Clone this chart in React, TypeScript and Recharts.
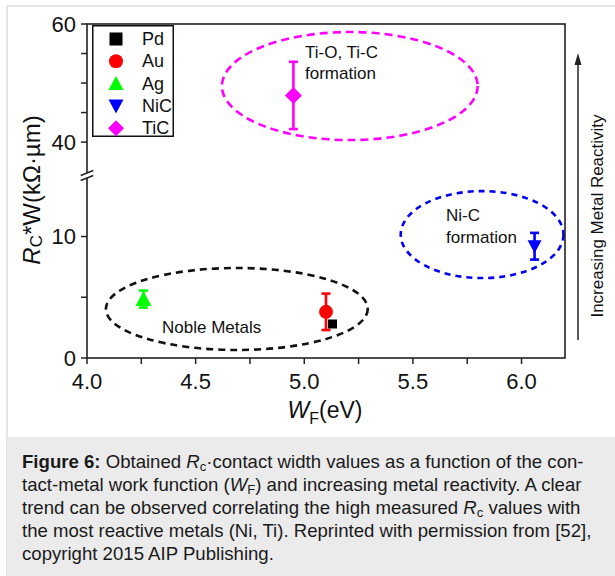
import React from 'react';
import { ScatterChart, Scatter, XAxis, YAxis, ErrorBar, ReferenceArea, Legend } from 'recharts';

const FONT = '"Liberation Sans", Arial, Helvetica, sans-serif';

const metals = ['Pd', 'Au', 'Ag', 'NiC', 'TiC'];
const workFunction = [5.13, 5.1, 4.26, 6.06, 4.95];
const rcW = [2.8, 3.8, 4.85, 9.2, 47.9];
const rcWErr = [0, 1.5, 0.7, 1.1, 5.7];
const markerColors = ['#000000', '#ff0000', '#00ff00', '#0000ff', '#ff00ff'];
const markerShapes = ['square', 'circle', 'triangle', 'triangleDown', 'diamond'];
const markerSizes = [9, 14, 16, 14, 17];

const xTicks = [4, 4.25, 4.5, 4.75, 5, 5.25, 5.5, 5.75, 6];
const yTicksHigh = [40, 45, 50, 55, 60];
const yTicksLow = [0, 5, 10];
const yLabelsShown = [0, 10, 40, 60];

// broken y axis: two segments
const highDomain = [35.1, 60];
const lowDomain = [0, 14.9];

// dashed ellipses [x1, x2, y1, y2]
const nobleEllipse = [4.087, 5.292, 0.66, 7.41];
const nicEllipse = [5.444, 6.193, 6.58, 13.74];
const ticEllipse = [4.621, 5.798, 40.34, 58.64];

function Marker({ kind, cx, cy, color, size }: any) {
  const h = size / 2;
  switch (kind) {
    case 'square':
      return <rect x={cx - h} y={cy - h} width={size} height={size} fill={color} />;
    case 'circle':
      return <circle cx={cx} cy={cy} r={h} fill={color} />;
    case 'triangle':
      return <polygon points={`${cx},${cy - h} ${cx - h},${cy + h * 0.85} ${cx + h},${cy + h * 0.85}`} fill={color} />;
    case 'triangleDown':
      return <polygon points={`${cx},${cy + h} ${cx - h},${cy - h * 0.85} ${cx + h},${cy - h * 0.85}`} fill={color} />;
    default:
      return <polygon points={`${cx},${cy - h} ${cx + h},${cy} ${cx},${cy + h} ${cx - h},${cy}`} fill={color} />;
  }
}

const legendSizes = [13, 14, 15, 15, 16];

function LegendBox() {
  return (
    <svg width={82} height={112} style={{ display: 'block' }}>
      <rect x={0.75} y={0.75} width={80.5} height={110.5} fill="#fff" stroke="#111" strokeWidth={1.5} />
      {metals.map((m, i) => (
        <g key={m}>
          <Marker kind={markerShapes[i]} cx={24} cy={14 + i * 22.3} color={markerColors[i]} size={legendSizes[i]} />
          <text x={50} y={14 + i * 22.3} dominantBaseline="central" fontSize={18} fontFamily={FONT} fill="#111">
            {m}
          </text>
        </g>
      ))}
    </svg>
  );
}

function ellipseShape(color: string, dash: string) {
  return (p: any) => (
    <ellipse
      cx={p.x + p.width / 2}
      cy={p.y + p.height / 2}
      rx={Math.abs(p.width) / 2}
      ry={Math.abs(p.height) / 2}
      fill="none"
      stroke={color}
      strokeWidth={2.6}
      strokeDasharray={dash}
    />
  );
}

const fmtY = (v: number) => (yLabelsShown.includes(v) ? String(v) : '');
const fmtX = (v: number) => (Math.abs(v * 2 - Math.round(v * 2)) < 1e-9 ? v.toFixed(1) : '');

const tickStyle = { fill: '#111', fontSize: 22, fontFamily: FONT };
const tickLine = { stroke: '#222', strokeWidth: 1.5 };

function series(i: number) {
  return [{ x: workFunction[i], y: rcW[i], err: rcWErr[i] }];
}

function renderSeries(i: number) {
  return (
    <Scatter
      key={metals[i]}
      name={metals[i]}
      data={series(i)}
      fill={markerColors[i]}
      isAnimationActive={false}
      shape={(p: any) => (
        <Marker kind={markerShapes[i]} cx={p.cx} cy={p.cy} color={markerColors[i]} size={markerSizes[i]} />
      )}
    >
      {rcWErr[i] > 0 && (
        <ErrorBar dataKey="err" direction="y" width={4.5} stroke={markerColors[i]} strokeWidth={2.6} />
      )}
    </Scatter>
  );
}

const lowSeries = [1, 0, 2, 3].filter((i) => rcW[i] <= lowDomain[1]);
const highSeries = [0, 1, 2, 3, 4].filter((i) => rcW[i] >= highDomain[0]);

const subStyle = { fontSize: '0.7em', verticalAlign: '-0.25em', lineHeight: 0 };

export default function App() {
  return (
    <div style={{ position: 'absolute', left: 0, top: 0, width: 615, height: 576, background: '#fff', fontFamily: FONT, overflow: 'hidden' }}>
      <div style={{ position: 'absolute', left: 6, top: 5, width: 620, height: 580, borderLeft: '2px solid #e3e3e3', borderTop: '2px solid #e3e3e3' }} />

      {/* lower segment of the broken axis */}
      <div style={{ position: 'absolute', left: 0, top: 0 }}>
        <ScatterChart width={615} height={440} margin={{ top: 177, right: 50, bottom: 52, left: 7 }}>
          <XAxis
            type="number"
            dataKey="x"
            domain={[4, 6.2]}
            ticks={xTicks}
            interval={0}
            tickFormatter={fmtX}
            height={30}
            axisLine={false}
            tickSize={6}
            tickMargin={9}
            tick={tickStyle}
            tickLine={tickLine}
            allowDataOverflow
          />
          <YAxis
            type="number"
            dataKey="y"
            domain={lowDomain}
            ticks={yTicksLow}
            interval={0}
            tickFormatter={fmtY}
            width={80}
            axisLine={false}
            tickSize={6}
            tickMargin={5}
            tick={tickStyle}
            tickLine={tickLine}
            allowDataOverflow
          />
          <ReferenceArea
            x1={nobleEllipse[0]} x2={nobleEllipse[1]} y1={nobleEllipse[2]} y2={nobleEllipse[3]}
            ifOverflow="visible"
            shape={ellipseShape('#111', '7 5')}
          />
          <ReferenceArea
            x1={nicEllipse[0]} x2={nicEllipse[1]} y1={nicEllipse[2]} y2={nicEllipse[3]}
            ifOverflow="visible"
            shape={ellipseShape('#0000ee', '6 5')}
          />
          {lowSeries.map(renderSeries)}
        </ScatterChart>
      </div>

      {/* upper segment of the broken axis */}
      <div style={{ position: 'absolute', left: 0, top: 0 }}>
        <ScatterChart width={615} height={180} margin={{ top: 24, right: 50, bottom: 9, left: 7 }}>
          <XAxis type="number" dataKey="x" domain={[4, 6.2]} hide allowDataOverflow />
          <YAxis
            type="number"
            dataKey="y"
            domain={highDomain}
            ticks={yTicksHigh}
            interval={0}
            tickFormatter={fmtY}
            width={80}
            axisLine={false}
            tickSize={6}
            tickMargin={5}
            tick={tickStyle}
            tickLine={tickLine}
            allowDataOverflow
          />
          <ReferenceArea
            x1={ticEllipse[0]} x2={ticEllipse[1]} y1={ticEllipse[2]} y2={ticEllipse[3]}
            ifOverflow="visible"
            shape={ellipseShape('#ff00ff', '8 5')}
          />
          {highSeries.map(renderSeries)}
          <Legend
            layout="vertical"
            align="center"
            verticalAlign="middle"
            wrapperStyle={{ left: 92, top: 25, width: 82, height: 112 }}
            content={() => <LegendBox />}
          />
        </ScatterChart>
      </div>

      <svg width={615} height={440} style={{ position: 'absolute', left: 0, top: 0, pointerEvents: 'none' }} fontFamily={FONT}>
        <rect x={87} y={24} width={478} height={334} fill="none" stroke="#222" strokeWidth={1.6} />
        <rect x={84} y={173.2} width={6} height={4.6} fill="#fff" />
        <line x1={80.7} y1={175.5} x2={93.3} y2={170.5} stroke="#222" strokeWidth={1.5} />
        <line x1={80.7} y1={180.5} x2={93.3} y2={175.5} stroke="#222" strokeWidth={1.5} />

        <g fontSize={17} fill="#111">
          <text x={305} y={52} dominantBaseline="central">Ti-O, Ti-C</text>
          <text x={305} y={73.5} dominantBaseline="central">formation</text>
          <text x={446} y={215} dominantBaseline="central">Ni-C</text>
          <text x={446} y={237} dominantBaseline="central">formation</text>
          <text x={162} y={327} dominantBaseline="central">Noble Metals</text>
        </g>

        <line x1={578} y1={340} x2={578} y2={62} stroke="#222" strokeWidth={1.5} />
        <polygon points="578,53 574.5,65 581.5,65" fill="#222" />
        <text transform="translate(597,216) rotate(-90)" textAnchor="middle" dominantBaseline="central" fontSize={17} fill="#111">
          Increasing Metal Reactivity
        </text>

        <text transform="translate(31,190) rotate(-90)" textAnchor="middle" dominantBaseline="central" fontSize={24} fill="#111">
          <tspan fontStyle="italic">R</tspan>
          <tspan fontSize={17} dy={5}>C</tspan>
          <tspan dy={-5}>*W(kΩ·µm)</tspan>
        </text>
        <text x={325} y={418} textAnchor="middle" fontSize={23} fill="#111">
          <tspan fontStyle="italic">W</tspan>
          <tspan fontSize={16} dy={6}>F</tspan>
          <tspan dy={-6}>(eV)</tspan>
        </text>
      </svg>

      <div
        style={{
          position: 'absolute',
          left: 7,
          top: 437,
          width: 608,
          height: 139,
          background: '#ebebeb',
          boxSizing: 'border-box',
          padding: '13px 0 0 15px',
          fontSize: 18.6,
          lineHeight: '23px',
          color: '#1a1a1a',
          whiteSpace: 'nowrap',
        }}
      >
        <div>
          <b>Figure 6:</b> Obtained <i>R</i><sub style={subStyle}>c</sub>·contact width values as a function of the con-
        </div>
        <div>
          tact-metal work function (<i>W</i><sub style={subStyle}>F</sub>) and increasing metal reactivity. A clear
        </div>
        <div>
          trend can be observed correlating the high measured <i>R</i><sub style={subStyle}>c</sub> values with
        </div>
        <div>the most reactive metals (Ni, Ti). Reprinted with permission from [52],</div>
        <div>copyright 2015 AIP Publishing.</div>
      </div>
    </div>
  );
}
